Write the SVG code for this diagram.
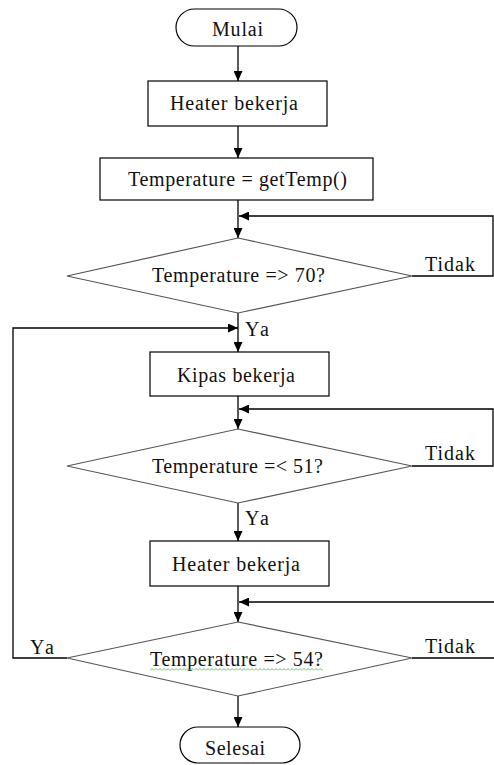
<svg xmlns="http://www.w3.org/2000/svg" width="494" height="765" viewBox="0 0 494 765">
<style>
.box{fill:#fff;stroke:#000;stroke-width:1.2}
.dia{fill:#fff;stroke:#555;stroke-width:1.2}
.ln{fill:none;stroke:#000;stroke-width:1.3}
.t{font-family:"Liberation Serif","Times New Roman",serif;font-size:20px;fill:#111}
.c{text-anchor:middle}
</style>
<defs>
<marker id="ah" markerUnits="userSpaceOnUse" markerWidth="10" markerHeight="9" refX="10" refY="4.5" orient="auto">
<path d="M0,0 L10,4.5 L0,9 z" fill="#000"/>
</marker>
<pattern id="sq" width="4" height="3" patternUnits="userSpaceOnUse" x="150" y="668">
<path d="M0,2.5 L2,0.5 L4,2.5" fill="none" stroke="#5cb85c" stroke-width="0.9"/>
</pattern>
</defs>
<g id="connectors">
<path class="ln" d="M238,46 V81" marker-end="url(#ah)"/>
<path class="ln" d="M238,126 V158" marker-end="url(#ah)"/>
<path class="ln" d="M238,200 V238" marker-end="url(#ah)"/>
<path class="ln" d="M412,276 H493 V216 H239" marker-end="url(#ah)"/>
<path class="ln" d="M238,313 V352" marker-end="url(#ah)"/>
<path class="ln" d="M67,658 H13 V328 H238" marker-end="url(#ah)"/>
<path class="ln" d="M238,396 V429" marker-end="url(#ah)"/>
<path class="ln" d="M412,466 H493 V409 H239" marker-end="url(#ah)"/>
<path class="ln" d="M238,503 V541" marker-end="url(#ah)"/>
<path class="ln" d="M238,586 V622" marker-end="url(#ah)"/>
<path class="ln" d="M412,658 H497 V602 H239" marker-end="url(#ah)"/>
<path class="ln" d="M238,696 V727" marker-end="url(#ah)"/>
</g>
<g id="mulai">
<rect class="box" x="176" y="9" width="121" height="37" rx="18.5" stroke="#555"/>
<text class="t" x="212" y="36" textLength="51" lengthAdjust="spacing">Mulai</text>
</g>
<g id="heater1">
<rect class="box" x="148" y="81" width="179" height="45"/>
<text class="t" x="170" y="110" textLength="128" lengthAdjust="spacing">Heater bekerja</text>
</g>
<g id="gettemp">
<rect class="box" x="100" y="158" width="273" height="42"/>
<text class="t" x="128" y="186" textLength="219" lengthAdjust="spacing">Temperature = getTemp()</text>
</g>
<g id="cek70">
<polygon class="dia" points="238,238 412,276 238,313 67,276"/>
<text class="t" x="152" y="282" textLength="173" lengthAdjust="spacing">Temperature =&gt; 70?</text>
<text class="t" x="425" y="271" textLength="50" lengthAdjust="spacing">Tidak</text>
<text class="t" x="245" y="336" textLength="24" lengthAdjust="spacing">Ya</text>
</g>
<g id="kipas">
<rect class="box" x="150" y="352" width="179" height="44"/>
<text class="t" x="177" y="382" textLength="118" lengthAdjust="spacing">Kipas bekerja</text>
</g>
<g id="cek51">
<polygon class="dia" points="238,429 412,466 238,503 67,466"/>
<text class="t" x="152" y="473" textLength="171" lengthAdjust="spacing">Temperature =&lt; 51?</text>
<text class="t" x="425" y="460" textLength="50" lengthAdjust="spacing">Tidak</text>
<text class="t" x="245" y="525" textLength="24" lengthAdjust="spacing">Ya</text>
</g>
<g id="heater2">
<rect class="box" x="150" y="541" width="179" height="45"/>
<text class="t" x="172" y="571" textLength="128" lengthAdjust="spacing">Heater bekerja</text>
</g>
<g id="cek54">
<polygon class="dia" points="238,622 412,658 238,696 67,658"/>
<text class="t" x="150" y="666" textLength="173" lengthAdjust="spacing">Temperature =&gt; 54?</text>
<rect x="150" y="668" width="173" height="3" fill="url(#sq)"/>
<text class="t" x="425" y="653" textLength="50" lengthAdjust="spacing">Tidak</text>
<text class="t" x="30" y="654" textLength="24" lengthAdjust="spacing">Ya</text>
</g>
<g id="selesai">
<rect class="box" x="180" y="727" width="120" height="36" rx="18" stroke="#555"/>
<text class="t" x="205" y="755" textLength="60" lengthAdjust="spacing">Selesai</text>
</g>
</svg>
